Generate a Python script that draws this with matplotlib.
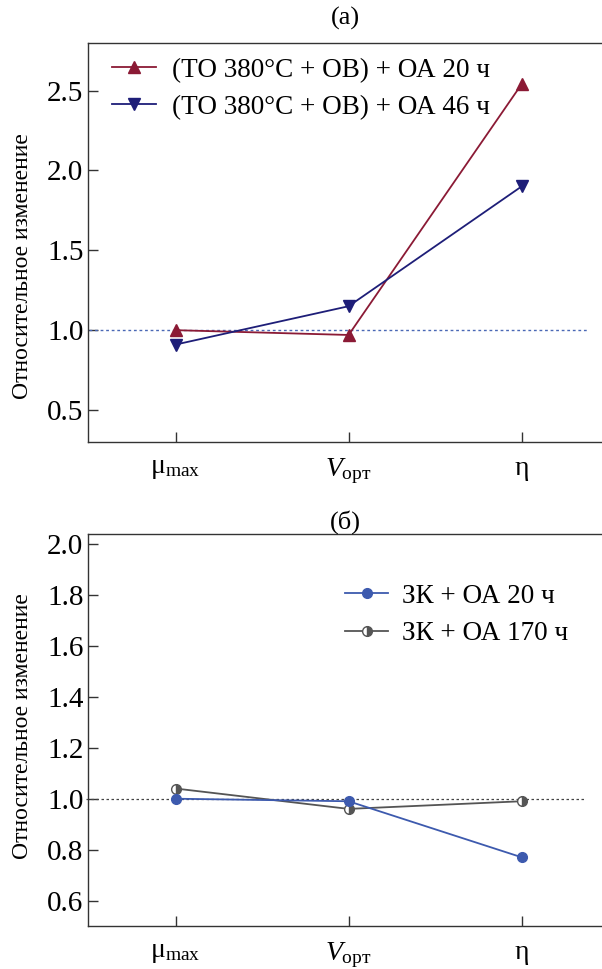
import matplotlib
matplotlib.use("Agg")
import matplotlib.pyplot as plt

plt.rcParams['font.family'] = 'serif'
plt.rcParams['font.serif'] = ['Liberation Serif', 'DejaVu Serif']
plt.rcParams['mathtext.fontset'] = 'custom'
plt.rcParams['mathtext.rm'] = 'Liberation Serif'
plt.rcParams['mathtext.it'] = 'Liberation Serif:italic'

# parameters on the x axis
params = [r'$\mathrm{μ}_{\mathrm{max}}$', r'$V_{\mathrm{орт}}$', 'η']
xpos = [0, 1, 2]

# (а) aged after heat treatment + deformation
lbl_a20 = '(ТО 380°С + ОВ) + ОА 20 ч'
lbl_a46 = '(ТО 380°С + ОВ) + ОА 46 ч'
a20 = [1.00, 0.97, 2.54]
a46 = [0.91, 1.15, 1.90]

# (б) aged after quenching
lbl_b20 = 'ЗК + ОА 20 ч'
lbl_b170 = 'ЗК + ОА 170 ч'
b20 = [1.00, 0.99, 0.77]
b170 = [1.04, 0.96, 0.99]

ylabel = 'Относительное изменение'

fig = plt.figure(figsize=(6.02, 9.69), dpi=100)
ax1 = fig.add_axes([0.1467, 0.5439, 0.8533, 0.4120])
ax2 = fig.add_axes([0.1467, 0.0444, 0.8533, 0.4045])

def style_axes(ax, label_y):
    for s in ['left', 'bottom', 'top']:
        ax.spines[s].set_color('#333333')
        ax.spines[s].set_linewidth(1.0)
    ax.spines['right'].set_visible(False)
    ax.tick_params(direction='in', length=7, width=1, color='#333333',
                   labelsize=21, top=False, right=False)
    ax.tick_params(axis='x', pad=10)
    ax.set_xlim(-0.505, 2.465)
    ax.set_xticks(xpos)
    ax.set_xticklabels(params, fontsize=20)
    ax.set_ylabel(ylabel, fontsize=17)
    ax.yaxis.set_label_coords(-0.108, label_y)

# panel (а)
ax1.hlines(1.0, -0.5, 2.38, colors='#4a68b5', linestyles=(0, (2, 2)), linewidth=1.0)
ax1.plot(xpos, a20, color='#8b1a35', marker='^', markersize=9, linewidth=1.3, label=lbl_a20)
ax1.plot(xpos, a46, color='#1e1e78', marker='v', markersize=9, linewidth=1.3, label=lbl_a46)
ax1.set_ylim(0.3, 2.8)
ax1.set_yticks([0.5, 1.0, 1.5, 2.0, 2.5])
ax1.set_yticklabels(['0.5', '1.0', '1.5', '2.0', '2.5'])
style_axes(ax1, 0.44)
ax1.legend(loc='upper left', frameon=False, fontsize=19.5, handlelength=1.6,
           handletextpad=0.6, labelspacing=0.45, borderaxespad=0.3,
           bbox_to_anchor=(0.01, 1.01))
ax1.set_title('(а)', fontsize=19, pad=13)

# panel (б)
ax2.hlines(1.0, -0.52, 2.37, colors='#444444', linestyles=(0, (2, 2)), linewidth=0.9,
           clip_on=False)
ax2.plot(xpos, b170, color='#555555', marker='o', markersize=7, linewidth=1.3,
         fillstyle='right', markerfacecolor='#555555', markerfacecoloralt='white',
         markeredgecolor='#555555', label=lbl_b170, zorder=3)
ax2.plot(xpos, b20, color='#3d5aae', marker='o', markersize=7, linewidth=1.3,
         label=lbl_b20, zorder=4)
ax2.set_ylim(0.5, 2.04)
ax2.set_yticks([0.6, 0.8, 1.0, 1.2, 1.4, 1.6, 1.8, 2.0])
ax2.set_yticklabels(['0.6', '0.8', '1.0', '1.2', '1.4', '1.6', '1.8', '2.0'])
style_axes(ax2, 0.51)
h, l = ax2.get_legend_handles_labels()
ax2.legend(h[::-1], l[::-1], loc='upper left', frameon=False, fontsize=19.5,
           handlelength=1.6, handletextpad=0.5, labelspacing=0.45,
           bbox_to_anchor=(0.452, 0.935))
ax2.set_title('(б)', fontsize=19, pad=4)

fig.savefig('out.png', dpi=100)
